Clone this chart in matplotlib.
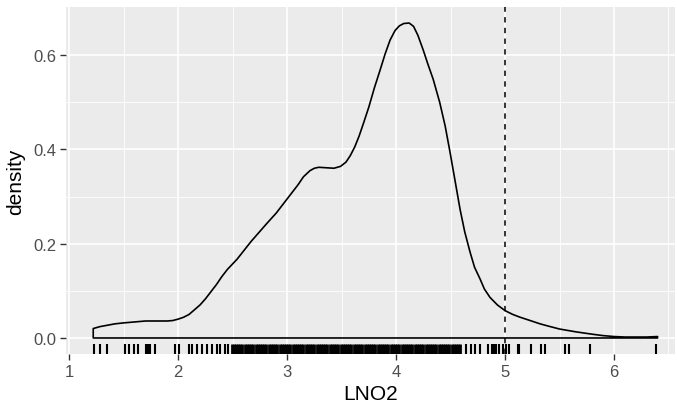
import matplotlib
matplotlib.use("Agg")
import matplotlib.pyplot as plt
import matplotlib.transforms as mtransforms

plt.rcParams['font.family'] = ['Liberation Sans', 'DejaVu Sans']

# density curve
lno2_grid = [1.22, 1.28, 1.35, 1.42, 1.5, 1.6, 1.7, 1.8, 1.9, 1.95, 2.0, 2.05,
             2.1, 2.15, 2.2, 2.25, 2.3, 2.35, 2.4, 2.45, 2.54, 2.67, 2.81, 2.9,
             3.0, 3.05, 3.1, 3.15, 3.21, 3.25, 3.29, 3.36, 3.43, 3.49, 3.54,
             3.58, 3.62, 3.66, 3.70, 3.75, 3.80, 3.85, 3.90, 3.945, 3.99, 4.03,
             4.07, 4.12, 4.16, 4.2, 4.25, 4.29, 4.34, 4.40, 4.45, 4.495, 4.54,
             4.587, 4.63, 4.679, 4.72, 4.771, 4.81, 4.862, 4.93, 5.0, 5.07,
             5.138, 5.23, 5.321, 5.4, 5.5, 5.65, 5.8, 5.9, 6.0, 6.1, 6.2, 6.3,
             6.4]
density = [0.020, 0.024, 0.027, 0.030, 0.032, 0.034, 0.036, 0.036, 0.036,
           0.037, 0.040, 0.044, 0.050, 0.060, 0.070, 0.083, 0.098, 0.113,
           0.130, 0.145, 0.167, 0.205, 0.242, 0.265, 0.295, 0.310, 0.325,
           0.342, 0.355, 0.360, 0.362, 0.361, 0.360, 0.364, 0.373, 0.387,
           0.405, 0.428, 0.455, 0.49, 0.53, 0.566, 0.603, 0.632, 0.652, 0.662,
           0.667, 0.668, 0.661, 0.642, 0.610, 0.582, 0.549, 0.50, 0.45, 0.394,
           0.335, 0.273, 0.225, 0.182, 0.150, 0.125, 0.104, 0.086, 0.070,
           0.058, 0.050, 0.044, 0.037, 0.030, 0.025, 0.019, 0.013, 0.008,
           0.005, 0.003, 0.002, 0.002, 0.002, 0.003]

# rug observations
rug_sparse = [1.223, 1.278, 1.345, 1.514, 1.544, 1.590, 1.630, 1.70, 1.72, 1.74,
              1.789, 1.972, 2.003, 2.095, 2.126, 2.177, 2.217, 2.263, 2.309,
              2.355, 2.385, 2.43, 2.46,
              4.642, 4.685, 4.725, 4.771, 4.847, 4.878, 4.90, 4.92, 4.94, 4.985,
              5.006, 5.04, 5.115, 5.13, 5.236, 5.327, 5.367, 5.55, 5.587, 5.78,
              6.39]
rug_dense = [2.49, 2.51, 2.53, 2.55, 2.57, 2.59, 2.61, 2.63, 2.65, 2.67, 2.69,
             2.71, 2.73, 2.75, 2.77, 2.79, 2.81, 2.83, 2.85, 2.87, 2.89, 2.91,
             2.93, 2.95, 2.97, 2.99, 3.01, 3.03, 3.05, 3.07, 3.09, 3.11, 3.13,
             3.15, 3.17, 3.19, 3.21, 3.23, 3.25, 3.27, 3.29, 3.31, 3.33, 3.35,
             3.37, 3.39, 3.41, 3.43, 3.45, 3.47, 3.49, 3.51, 3.53, 3.55, 3.57,
             3.59, 3.61, 3.63, 3.65, 3.67, 3.69, 3.71, 3.73, 3.75, 3.77, 3.79,
             3.81, 3.83, 3.85, 3.87, 3.89, 3.91, 3.93, 3.95, 3.97, 3.99, 4.01,
             4.03, 4.05, 4.07, 4.09, 4.11, 4.13, 4.15, 4.17, 4.19, 4.21, 4.23,
             4.25, 4.27, 4.29, 4.31, 4.33, 4.35, 4.37, 4.39, 4.41, 4.43, 4.45,
             4.47, 4.49, 4.51, 4.53, 4.55, 4.57, 4.59]
cutoff = 5

x_ticks = [1, 2, 3, 4, 5, 6]
x_minor = [1.5, 2.5, 3.5, 4.5, 5.5, 6.5]
y_ticks = [0.0, 0.2, 0.4, 0.6]
y_minor = [0.1, 0.3, 0.5]

fig = plt.figure(figsize=(6.77, 4.06), dpi=100)
ax = fig.add_axes([66 / 677, 51 / 406, 609 / 677, 347 / 406])
ax.set_facecolor('#EBEBEB')

for v in x_minor:
    ax.axvline(v, color='white', lw=0.6, zorder=0)
for v in y_minor:
    ax.axhline(v, color='white', lw=0.6, zorder=0)
for v in x_ticks:
    ax.axvline(v, color='white', lw=1.2, zorder=0)
for v in y_ticks:
    ax.axhline(v, color='white', lw=1.2, zorder=0)

# closed outline like geom_density
ax.fill(lno2_grid + [lno2_grid[-1], lno2_grid[0]], density + [0, 0],
        fill=False, edgecolor='black', lw=1.2, joinstyle='round', zorder=3)

trans = mtransforms.blended_transform_factory(ax.transData, ax.transAxes)
ax.vlines(rug_sparse, 0, 0.03, transform=trans, color='black', lw=1.5, zorder=3)
ax.vlines(rug_dense, 0, 0.03, transform=trans, color='black', lw=2.0, zorder=3)

ax.axvline(cutoff, color='black', lw=1.1, ls=(0, (3.5, 3.5)), zorder=4)

ax.set_xlim(0.97, 6.56)
ax.set_ylim(-0.034, 0.702)
ax.set_xticks(x_ticks)
ax.set_yticks(y_ticks)
ax.set_yticklabels(['0.0', '0.2', '0.4', '0.6'])
for s in ax.spines.values():
    s.set_visible(False)
ax.tick_params(length=4, width=1, color='#333333', labelcolor='#4D4D4D',
               labelsize=12, pad=3)

ax.set_xlabel('LNO2', fontsize=15, labelpad=4)
ax.set_ylabel('density', fontsize=15, labelpad=6)

fig.savefig('out.png', dpi=100)
